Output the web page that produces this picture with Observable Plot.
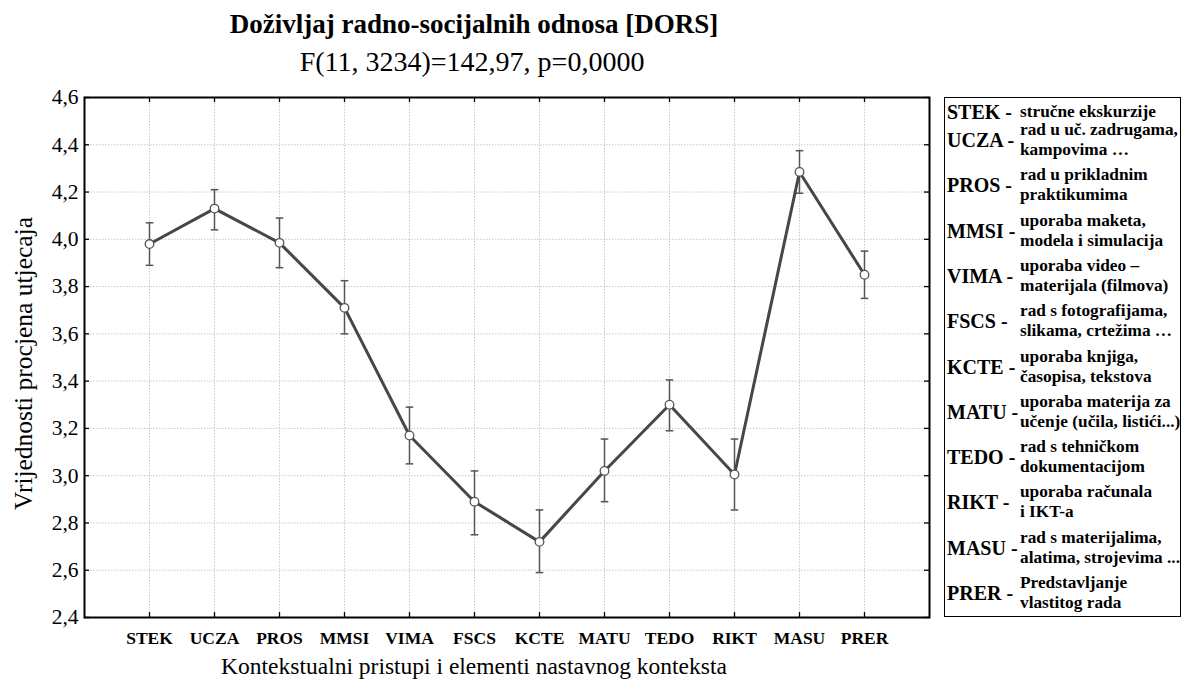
<!DOCTYPE html>
<html>
<head>
<meta charset="utf-8">
<script src="https://cdn.jsdelivr.net/npm/d3@7"></script>
<script src="https://cdn.jsdelivr.net/npm/@observablehq/plot@0.6"></script>
<style>
  html, body { margin: 0; padding: 0; background: #fff; }
  #wrap { position: relative; width: 1184px; height: 687px; font-family: "Liberation Serif", "Times New Roman", serif; }
  #legend { position: absolute; left: 944px; top: 97px; width: 237px; height: 520px; border: 1.5px solid #000; box-sizing: border-box; }
  .lrow { position: absolute; left: 2px; display: flex; align-items: center; font-weight: bold; color: #000; }
  .lcode { width: 73px; font-size: 20px; white-space: nowrap; line-height: 20px; }
  .ldesc { font-size: 17.3px; line-height: 20px; white-space: nowrap; }
</style>
</head>
<body>
<div id="wrap"></div>
<script>
const titleText = "Doživljaj radno-socijalnih odnosa [DORS]";
const subtitleText = "F(11, 3234)=142,97, p=0,0000";
const xLabel = "Kontekstualni pristupi i elementi nastavnog konteksta";
const yLabel = "Vrijednosti procjena utjecaja";

const codes = ["STEK", "UCZA", "PROS", "MMSI", "VIMA", "FSCS", "KCTE", "MATU", "TEDO", "RIKT", "MASU", "PRER"];
const means = [3.98, 4.13, 3.985, 3.71, 3.17, 2.89, 2.72, 3.02, 3.30, 3.005, 4.285, 3.85];
const lower = [3.89, 4.04, 3.88, 3.60, 3.05, 2.75, 2.59, 2.89, 3.19, 2.855, 4.195, 3.75];
const upper = [4.07, 4.21, 4.09, 3.825, 3.29, 3.02, 2.855, 3.155, 3.405, 3.155, 4.375, 3.95];
const yTicks = [2.4, 2.6, 2.8, 3.0, 3.2, 3.4, 3.6, 3.8, 4.0, 4.2, 4.4, 4.6];

const legendCodes = ["STEK -", "UCZA -", "PROS -", "MMSI -", "VIMA -", "FSCS -", "KCTE -", "MATU -", "TEDO -", "RIKT -", "MASU -", "PRER -"];
const legendLine1 = ["stručne ekskurzije", "rad u uč. zadrugama,", "rad u prikladnim", "uporaba maketa,", "uporaba video –", "rad s fotografijama,", "uporaba knjiga,", "uporaba materija za", "rad s tehničkom", "uporaba računala", "rad s materijalima,", "Predstavljanje"];
const legendLine2 = ["", "kampovima …", "praktikumima", "modela i simulacija", "materijala (filmova)", "slikama, crtežima …", "časopisa, tekstova", "učenje (učila, listići...)", "dokumentacijom", "i IKT-a", "alatima, strojevima ...", "vlastitog rada"];

const data = codes.map((c, i) => ({code: c, mean: means[i], lo: lower[i], hi: upper[i]}));

const capSymbol = {
  draw(context) {
    context.moveTo(-3.8, 0);
    context.lineTo(3.8, 0);
  }
};

const W = 1184, H = 687, mL = 84, mR = 255, mT = 97, mB = 70;
const fw = W - mL - mR, fh = H - mT - mB;
const fmt = d => d.toFixed(1).replace(".", ",");
const serif = "'Liberation Serif', 'Times New Roman', serif";

const chart = Plot.plot({
  width: W,
  height: H,
  marginLeft: mL,
  marginRight: mR,
  marginTop: mT,
  marginBottom: mB,
  style: {fontFamily: serif, background: "#fff", color: "#000"},
  x: {type: "point", domain: codes, padding: 1},
  y: {domain: [2.4, 4.6]},
  marks: [
    Plot.gridY(yTicks, {stroke: "#c8c8c8", strokeOpacity: 1, strokeDasharray: "1.5,1.5", strokeWidth: 1}),
    Plot.gridX(codes, {stroke: "#c8c8c8", strokeOpacity: 1, strokeDasharray: "1.5,1.5", strokeWidth: 1}),
    Plot.axisY(yTicks, {anchor: "left", tickSize: 0, tickPadding: 6, tickFormat: fmt, fontSize: 21.5, fontFamily: serif, label: null}),
    Plot.axisX(codes, {anchor: "bottom", tickSize: 0, tickPadding: 14, fontSize: 17.5, fontWeight: "bold", fontFamily: serif, label: null}),
    Plot.tickY(yTicks, {y: d => d, insetRight: fw - 5, stroke: "#000", strokeWidth: 1.3}),
    Plot.tickY(yTicks, {y: d => d, insetLeft: fw - 5, stroke: "#000", strokeWidth: 1.3}),
    Plot.tickX(codes, {x: d => d, insetBottom: fh - 5, stroke: "#000", strokeWidth: 1.3}),
    Plot.tickX(codes, {x: d => d, insetTop: fh - 5, stroke: "#000", strokeWidth: 1.3}),
    Plot.ruleX(data, {x: "code", y1: "lo", y2: "hi", stroke: "#555", strokeWidth: 1.5}),
    Plot.dot(data, {x: "code", y: "lo", symbol: capSymbol, stroke: "#555", strokeWidth: 1.5, fill: "none"}),
    Plot.dot(data, {x: "code", y: "hi", symbol: capSymbol, stroke: "#555", strokeWidth: 1.5, fill: "none"}),
    Plot.line(data, {x: "code", y: "mean", stroke: "#474747", strokeWidth: 3}),
    Plot.dot(data, {x: "code", y: "mean", r: 4.3, fill: "#fff", stroke: "#555", strokeWidth: 1.3}),
    Plot.frame({stroke: "#000", strokeWidth: 2}),
    Plot.text([titleText], {text: d => d, frameAnchor: "top", textAnchor: "middle", lineAnchor: "middle", dx: -33, dy: -73, fontSize: 27, fontWeight: "bold", fontFamily: serif, fill: "#000"}),
    Plot.text([subtitleText], {text: d => d, frameAnchor: "top", textAnchor: "middle", lineAnchor: "middle", dx: -35, dy: -35, fontSize: 28, fontFamily: serif, fill: "#000"}),
    Plot.text([xLabel], {text: d => d, frameAnchor: "bottom", textAnchor: "middle", lineAnchor: "middle", dx: -33, dy: 49, fontSize: 23.5, fontFamily: serif, fill: "#000"}),
    Plot.text([yLabel], {text: d => d, frameAnchor: "left", textAnchor: "middle", lineAnchor: "middle", dx: -61, dy: 6, rotate: -90, fontSize: 25.5, fontFamily: serif, fill: "#000"})
  ]
});

const wrap = document.getElementById("wrap");
wrap.appendChild(chart);

const legend = document.createElement("div");
legend.id = "legend";
wrap.appendChild(legend);
legendCodes.forEach((c, i) => {
  const row = document.createElement("div");
  row.className = "lrow";
  const top = i === 0 ? 4 : 22 + (i - 1) * 45.3;
  row.style.top = top + "px";
  const code = document.createElement("div");
  code.className = "lcode";
  code.textContent = c;
  const desc = document.createElement("div");
  desc.className = "ldesc";
  desc.innerHTML = legendLine2[i] ? legendLine1[i] + "<br>" + legendLine2[i] : legendLine1[i];
  row.appendChild(code);
  row.appendChild(desc);
  legend.appendChild(row);
});
</script>
</body>
</html>
